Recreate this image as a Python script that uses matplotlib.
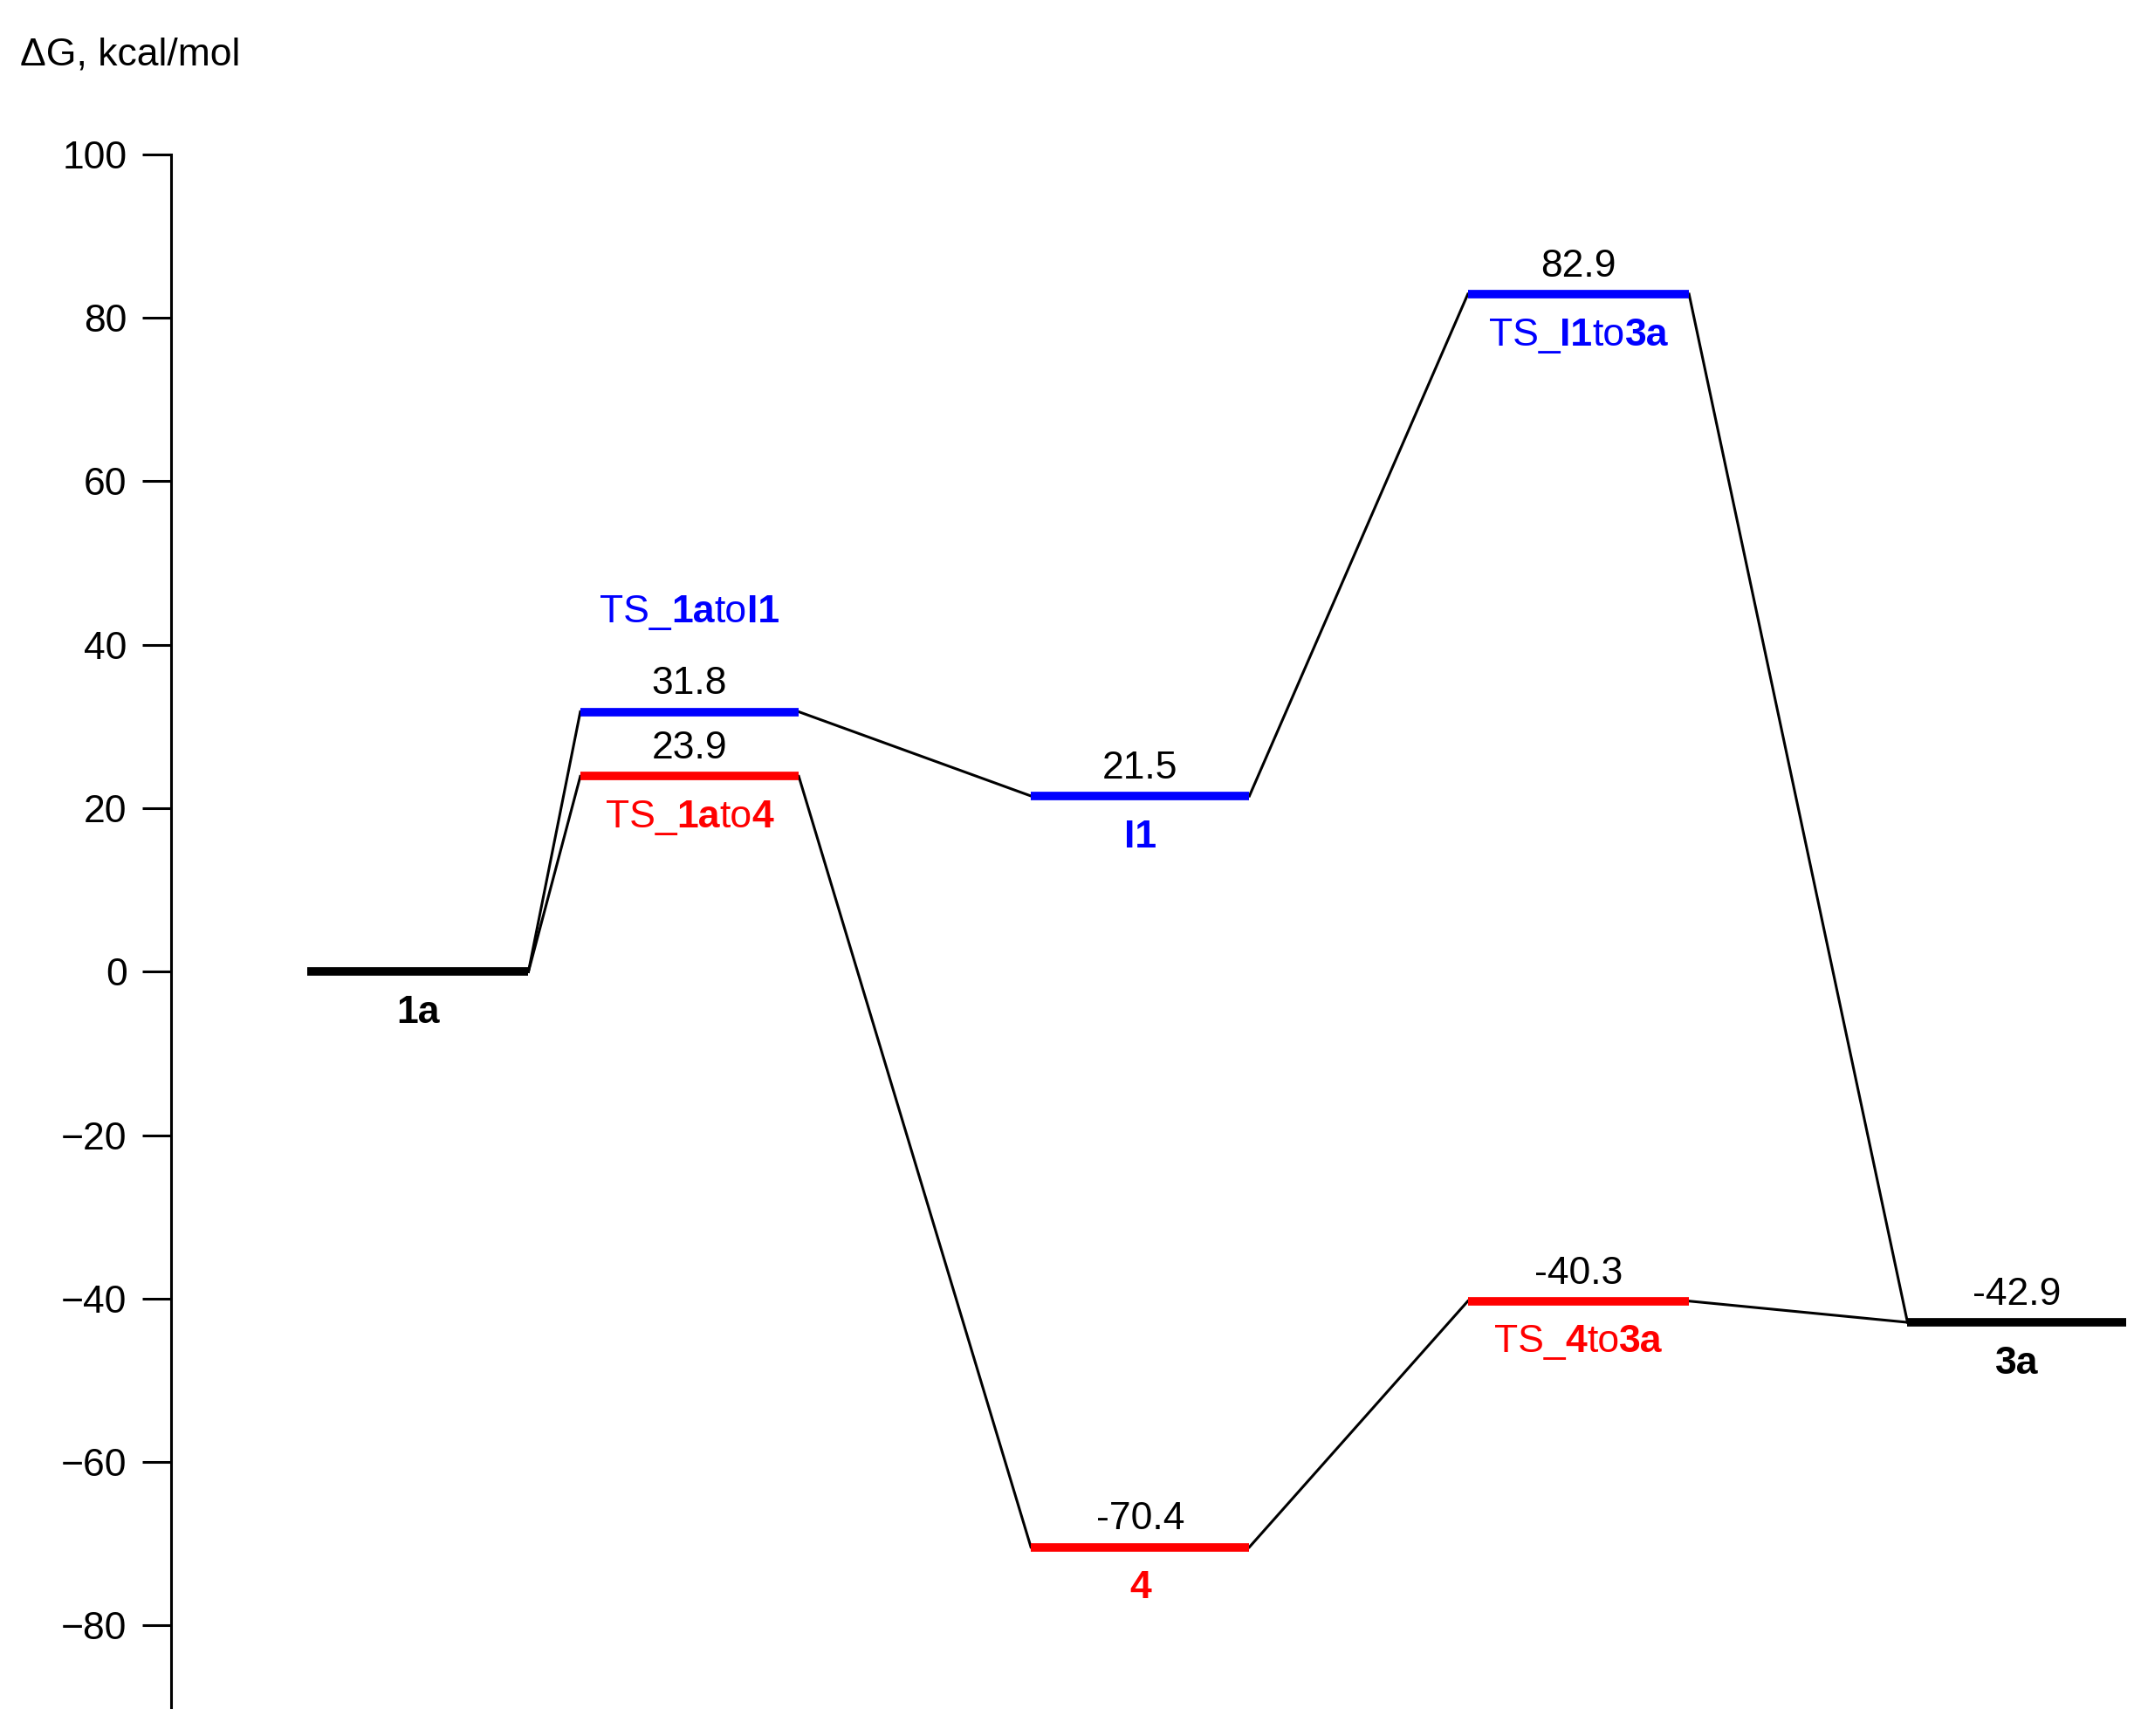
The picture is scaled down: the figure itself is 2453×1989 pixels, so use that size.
import matplotlib
matplotlib.use("Agg")
import matplotlib.pyplot as plt
from matplotlib.offsetbox import TextArea, HPacker, AnchoredOffsetbox, AnnotationBbox

plt.rcParams['font.family'] = ['Liberation Sans', 'DejaVu Sans']

# data
names = ["1a", "TS_1atoI1", "TS_1ato4", "I1", "4", "TS_I1to3a", "TS_4to3a", "3a"]
energies = [0.0, 31.8, 23.9, 21.5, -70.4, 82.9, -40.3, -42.9]
colors = ["black", "blue", "red", "blue", "red", "blue", "red", "black"]
# label pieces (text, bold)
label_parts = [
    [("1a", True)],
    [("TS_", False), ("1a", True), ("to", False), ("I1", True)],
    [("TS_", False), ("1a", True), ("to", False), ("4", True)],
    [("I1", True)],
    [("4", True)],
    [("TS_", False), ("I1", True), ("to", False), ("3a", True)],
    [("TS_", False), ("4", True), ("to", False), ("3a", True)],
    [("3a", True)],
]
# layout (horizontal extents of levels)
xspan = [(225, 387), (425, 585), (425, 585), (755, 915), (755, 915),
         (1075, 1237), (1075, 1237), (1397, 1557)]
label_above = [False, True, False, False, False, False, False, False]
connections = [(0, 1), (0, 2), (1, 3), (3, 5), (5, 7), (2, 4), (4, 6), (6, 7)]

fig = plt.figure(figsize=(24.53, 19.89), dpi=100)
ax = fig.add_axes([125/1568, 1 - 1250/1271, 1 - 125/1568, (1250-113)/1271])
ax.set_xlim(125, 1568)
ax.set_ylim(-90, 100)
for s in ["top", "right", "bottom"]:
    ax.spines[s].set_visible(False)
ax.spines["left"].set_linewidth(2.2)
ax.spines["left"].set_bounds(-90, 100)
ax.set_xticks([])
ax.set_yticks(range(-80, 101, 20))
ax.tick_params(axis='y', direction='out', length=24, width=2.2, labelsize=32, pad=12)

for a, b in connections:
    ax.plot([xspan[a][1], xspan[b][0]], [energies[a], energies[b]], color="black", lw=2.2, zorder=1)

FS = 32
for i, e in enumerate(energies):
    x0, x1 = xspan[i]
    ax.plot([x0, x1], [e, e], color=colors[i], lw=7, solid_capstyle='butt', zorder=2)
    xc = (x0 + x1) / 2
    if i != 0:
        ax.annotate(f"{e:.1f}", (xc, e), xytext=(0, 8), textcoords="offset points",
                    ha="center", va="bottom", fontsize=FS, color="black")
    parts = [TextArea(t, textprops=dict(fontsize=FS, color=colors[i],
                                        fontweight="bold" if b else "normal"))
             for t, b in label_parts[i]]
    box = HPacker(children=parts, pad=0, sep=0, align="baseline")
    if label_above[i]:
        ab = AnnotationBbox(box, (xc, e), xybox=(0, 82), boxcoords="offset points",
                            frameon=False, box_alignment=(0.5, 0.5), annotation_clip=False)
    else:
        ab = AnnotationBbox(box, (xc, e), xybox=(0, -34), boxcoords="offset points",
                            frameon=False, box_alignment=(0.5, 0.5), annotation_clip=False)
    ax.add_artist(ab)

fig.text(15/1568, 1 - 40/1271, "ΔG, kcal/mol", fontsize=FS, va="center", ha="left")
fig.savefig("out.png", dpi=100)
